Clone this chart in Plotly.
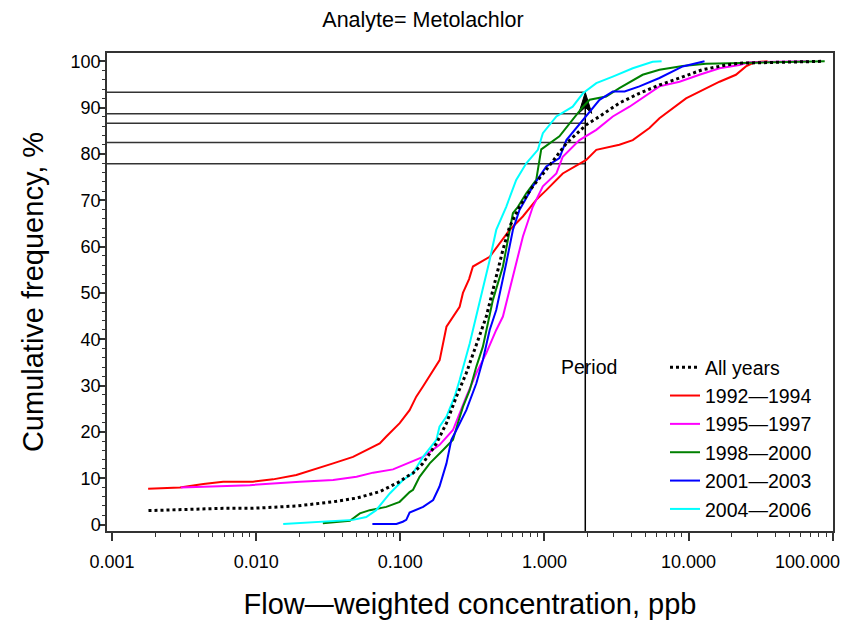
import numpy as np
import plotly.graph_objects as go

# ---------------- data ----------------
title_text = "Analyte= Metolachlor"
x_title = "Flow—weighted concentration, ppb"
y_title = "Cumulative frequency, %"
legend_label = "Period"

x_tick_vals = [0.001, 0.01, 0.1, 1, 10, 100]
x_tick_text = ["0.001", "0.010", "0.100", "1.000", "10.000", "100.000"]
y_tick_vals = [0, 10, 20, 30, 40, 50, 60, 70, 80, 90, 100]

period_names = ["All years", "1992—1994", "1995—1997", "1998—2000", "2001—2003", "2004—2006"]

all_x = [0.00179, 0.0059, 0.0095, 0.019, 0.034, 0.0497, 0.072, 0.099, 0.110, 0.1226, 0.1436, 0.178,
         0.209, 0.245, 0.287, 0.328, 0.365, 0.395, 0.463, 0.515, 0.573, 0.671, 0.83, 1.03, 1.42,
         1.95, 2.41, 3.31, 4.56, 6.28, 8.65, 12.5, 18.2, 22.5, 85]
all_y = [3.0, 3.5, 3.5, 4.0, 4.9, 5.7, 7.1, 9.25, 10.3, 11.1, 13.2, 17.5,
         21.9, 27.6, 32.7, 37.7, 42.0, 44.9, 53.5, 59.3, 64.3, 68.6, 73.0, 76.6, 82.3,
         86.3, 88.1, 91.0, 93.1, 94.9, 96.4, 98.2, 99.2, 99.6, 100]

p1_x = [0.00178, 0.00296, 0.0043, 0.0059, 0.0095, 0.0131, 0.019, 0.0248, 0.0342, 0.047, 0.0582,
        0.072, 0.080, 0.099, 0.116, 0.129, 0.1436, 0.1875, 0.209, 0.258, 0.272, 0.30, 0.319,
        0.417, 0.489, 0.573, 0.708, 0.877, 1.03, 1.27, 1.34, 1.95, 2.29, 3.31, 4.1, 5.35, 6.28,
        9.6, 13.2, 16.4, 21.3, 25.0, 28.6, 35.3]
p1_y = [7.7, 8.0, 8.75, 9.25, 9.25, 9.75, 10.7, 11.9, 13.2, 14.6, 16.1,
        17.5, 19.0, 21.9, 24.7, 27.6, 29.8, 35.5, 42.7, 47.0, 50.0, 53.0, 55.7,
        57.8, 60.7, 63.6, 66.5, 70.1, 72.2, 75.1, 75.8, 78.7, 80.9, 82.0, 83.0, 85.6, 87.7,
        92.0, 94.2, 95.6, 97.1, 98.9, 99.8, 100]

p2_x = [0.0030, 0.00904, 0.0201, 0.0342, 0.0497, 0.0648, 0.089, 0.1226, 0.1437, 0.1874, 0.232,
        0.287, 0.337, 0.395, 0.463, 0.515, 0.604, 0.709, 0.83, 0.975, 1.21, 1.34, 1.75, 2.29,
        2.98, 3.89, 6.28, 8.65, 11.9, 16.4, 22.5, 26.3, 68]
p2_y = [8.0, 8.5, 9.25, 9.6, 10.3, 11.2, 11.9, 13.6, 14.6, 17.2, 20.4,
        27.6, 32.7, 37.0, 42.0, 44.9, 53.5, 62.2, 68.6, 73.0, 75.8, 79.4, 83.0, 85.2,
        88.1, 90.2, 94.6, 95.6, 97.1, 98.5, 99.2, 99.8, 100]

p3_x = [0.029, 0.0447, 0.0524, 0.0614, 0.080, 0.099, 0.116, 0.1226, 0.136, 0.16, 0.198, 0.232,
        0.251, 0.272, 0.303, 0.337, 0.374, 0.395, 0.439, 0.515, 0.573, 0.604, 0.655, 0.748,
        0.877, 0.92, 0.95, 1.27, 1.57, 1.85, 2.06, 2.68, 3.31, 4.8, 6.28, 9.1, 13.2, 88]
p3_y = [0.3, 0.8, 2.4, 3.1, 3.8, 4.9, 7.0, 7.5, 10.3, 13.2, 16.1, 18.3,
        21.9, 25.4, 29.0, 34.1, 38.4, 42.0, 48.5, 55.7, 62.9, 67.2, 68.6, 71.5,
        74.4, 78.0, 81.0, 83.8, 87.4, 90.2, 91.7, 92.4, 94.2, 97.1, 98.2, 99.0, 99.5, 100]

p4_x = [0.064, 0.094, 0.104, 0.110, 0.116, 0.144, 0.169, 0.187, 0.209, 0.226, 0.245, 0.287,
        0.337, 0.374, 0.417, 0.463, 0.543, 0.604, 0.671, 0.83, 1.03, 1.27, 1.42, 1.95, 2.41,
        2.98, 3.6, 4.56, 6.28, 9.1, 12.9]
p4_y = [0.1, 0.1, 0.6, 1.0, 2.6, 3.8, 5.3, 8.2, 13.2, 18.3, 20.4, 24.7,
        30.5, 35.5, 42.0, 46.3, 56.4, 63.6, 67.9, 73.0, 77.3, 79.1, 83.0, 88.1, 91.7,
        93.5, 93.5, 94.6, 96.4, 98.9, 100]

p5_x = [0.0154, 0.029, 0.047, 0.058, 0.068, 0.0845, 0.1045, 0.1226, 0.1437, 0.178, 0.187, 0.209,
        0.238, 0.258, 0.279, 0.303, 0.319, 0.355, 0.417, 0.463, 0.543, 0.637, 0.748, 0.9,
        0.975, 1.21, 1.57, 1.85, 2.29, 2.98, 4.1, 5.63, 6.5]
p5_y = [0.1, 0.6, 1.0, 1.6, 3.1, 6.7, 9.6, 11.1, 14.6, 18.3, 21.1, 23.3,
        27.6, 31.2, 34.8, 39.1, 42.0, 47.8, 57.1, 63.6, 68.6, 74.4, 78.0, 80.9,
        84.5, 88.1, 90.2, 93.1, 95.3, 96.7, 98.5, 99.9, 100]

ref_x = 1.92                                  # concentration marked by the arrow
ref_levels = [93.3, 88.7, 86.65, 82.5, 77.9]  # cumulative % read at ref_x

# ---------------- styling ----------------
FONT = "Liberation Sans, Arial, Helvetica, sans-serif"
colors = ["#000000", "#FF0000", "#FF00FF", "#008000", "#0000FF", "#00FFFF"]
series = [(all_x, all_y), (p1_x, p1_y), (p2_x, p2_y), (p3_x, p3_y), (p4_x, p4_y), (p5_x, p5_y)]

x_range_log = [-3.035, 2.002]
y_range = [-1.4, 101.8]

# the page places the figure 8 px from the window's top-left corner
OFF = 8
W, H = 850 - OFF, 628 - OFF
M = dict(l=107 - OFF, r=17, t=53 - OFF, b=97)
plot_w = W - M["l"] - M["r"]
plot_h = H - M["t"] - M["b"]


def px_x(ax):   # absolute window x -> paper x
    return (ax - OFF - M["l"]) / plot_w


def px_y(ay):   # absolute window y -> paper y
    return (M["t"] + plot_h - (ay - OFF)) / plot_h


fig = go.Figure()

# reference lines (horizontal from the axis to ref_x, vertical from bottom to top level)
for lvl in ref_levels:
    fig.add_trace(go.Scatter(x=[10 ** x_range_log[0], ref_x], y=[lvl, lvl], mode="lines",
                             line=dict(color="#333333", width=1.5), showlegend=False,
                             hoverinfo="skip"))
fig.add_trace(go.Scatter(x=[ref_x, ref_x], y=[y_range[0], max(ref_levels) - 3], mode="lines",
                         line=dict(color="#000000", width=1.5), showlegend=False, hoverinfo="skip"))

# arrowhead (pixel-sized, converted into data units)
dlog_px = (x_range_log[1] - x_range_log[0]) / plot_w
dy_px = (y_range[1] - y_range[0]) / plot_h
head = [(0, 0), (-6.5, -21), (0, -15), (6.5, -21), (0, 0)]
tip = max(ref_levels)
fig.add_trace(go.Scatter(x=[ref_x * 10 ** (dx * dlog_px) for dx, dy in head],
                         y=[tip + dy * dy_px for dx, dy in head], mode="lines",
                         fill="toself", fillcolor="#000000", line=dict(color="#000000", width=1),
                         showlegend=False, hoverinfo="skip"))

# curves: coloured periods first, all years on top
order = [1, 2, 3, 4, 5, 0]
for i in order:
    xs, ys = series[i]
    fig.add_trace(go.Scatter(
        x=xs, y=ys, mode="lines", name=period_names[i], legendrank=i + 1,
        line=dict(color=colors[i], width=3 if i == 0 else 2, dash="dot" if i == 0 else "solid"),
    ))

minor_x = [m * 10 ** e for e in range(-3, 2) for m in range(2, 10)]

# the last tick label sits at the right edge; it is pulled inward so it stays in the window
shown_tick_text = x_tick_text[:-1] + [""]
annotations = [
    dict(text=legend_label, x=px_x(589), y=px_y(367), xref="paper", yref="paper",
         xanchor="center", yanchor="middle", showarrow=False, font=dict(size=19.5, family=FONT)),
    dict(text=x_tick_text[-1], x=px_x(842), y=px_y(562), xref="paper", yref="paper",
         xanchor="right", yanchor="middle", showarrow=False, font=dict(size=18, family=FONT)),
]

fig.update_layout(
    width=W, height=H, margin=M,
    paper_bgcolor="white", plot_bgcolor="white",
    font=dict(family=FONT, color="#000000"),
    title=dict(text=title_text, x=(423 - OFF) / W, y=1 - (19 - OFF) / H,
               xref="container", yref="container",
               xanchor="center", yanchor="middle", font=dict(size=21.5, family=FONT)),
    xaxis=dict(type="log", range=x_range_log, tickvals=x_tick_vals, ticktext=shown_tick_text,
               ticks="outside", ticklen=8, tickwidth=1.5, tickcolor="#333333",
               showline=True, linecolor="#333333", linewidth=1.5, mirror=True,
               showgrid=False, zeroline=False, tickfont=dict(size=18, family=FONT),
               ticklabelstandoff=6,
               minor=dict(tickvals=minor_x, ticks="outside", ticklen=4, tickwidth=1.2,
                          tickcolor="#333333", showgrid=False),
               title=dict(text=x_title, font=dict(size=29, family=FONT), standoff=22)),
    yaxis=dict(range=y_range, tickvals=y_tick_vals, ticks="outside", ticklen=6, tickwidth=1.5,
               tickcolor="#333333", showline=True, linecolor="#333333", linewidth=1.5,
               mirror=True, showgrid=False, zeroline=False, tickfont=dict(size=18, family=FONT),
               ticklabelstandoff=-5,
               minor=dict(dtick=2, ticks="outside", ticklen=3, tickwidth=1.2,
                          tickcolor="#333333", showgrid=False),
               title=dict(text=y_title, font=dict(size=29, family=FONT), standoff=18)),
    legend=dict(x=px_x(665), y=px_y(348),
                xanchor="left", yanchor="top", traceorder="normal",
                bgcolor="rgba(0,0,0,0)", borderwidth=0,
                font=dict(size=19.5, family=FONT)),
    showlegend=True,
    annotations=annotations,
)

fig.write_html("out.html")
